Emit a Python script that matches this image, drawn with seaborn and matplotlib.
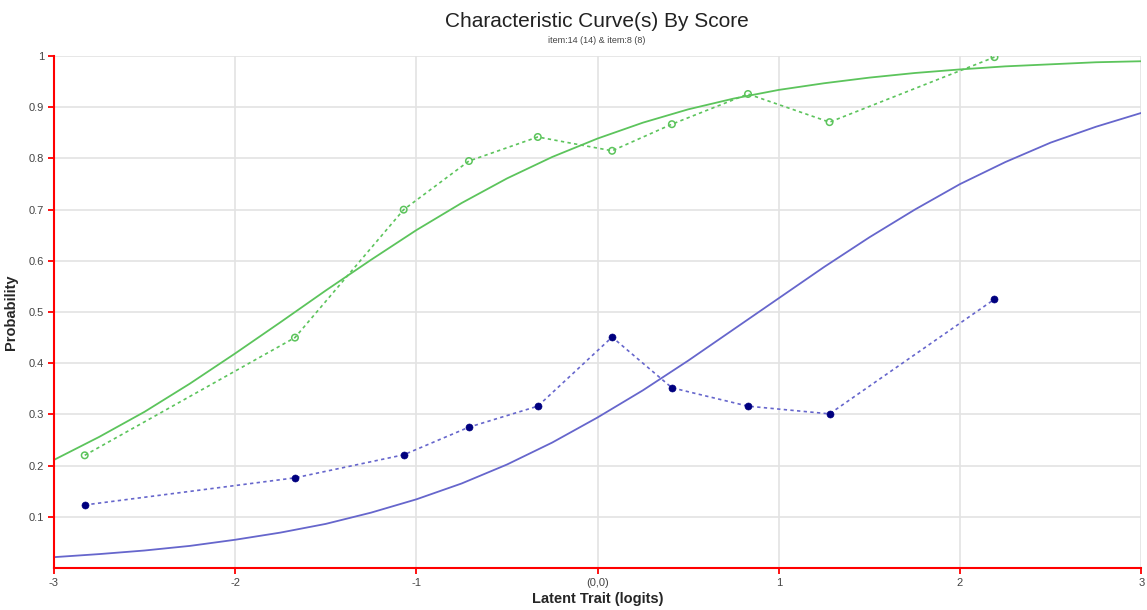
import matplotlib.pyplot as plt
import pandas as pd
import seaborn as sns

# observed proportions per score group
obs_x = [-2.83, -1.67, -1.07, -0.71, -0.33, 0.08, 0.41, 0.83, 1.28, 2.19]
obs_item14 = [0.220, 0.450, 0.700, 0.795, 0.842, 0.815, 0.867, 0.926, 0.871, 0.998]
obs_item8 = [0.123, 0.176, 0.221, 0.275, 0.316, 0.451, 0.352, 0.316, 0.301, 0.525]

# model curves
curve_x = [-3.0, -2.75, -2.5, -2.25, -2.0, -1.75, -1.5, -1.25, -1.0, -0.75,
           -0.5, -0.25, 0.0, 0.25, 0.5, 0.75, 1.0, 1.25, 1.5, 1.75, 2.0,
           2.25, 2.5, 2.75, 3.0]
curve_item14 = [0.211, 0.256, 0.305, 0.360, 0.419, 0.480, 0.542, 0.602,
                0.660, 0.713, 0.761, 0.803, 0.839, 0.870, 0.896, 0.917,
                0.934, 0.947, 0.958, 0.967, 0.974, 0.980, 0.984, 0.988, 0.990]
curve_item8 = [0.021, 0.027, 0.034, 0.043, 0.055, 0.069, 0.086, 0.108,
               0.134, 0.165, 0.202, 0.245, 0.294, 0.347, 0.405, 0.466,
               0.527, 0.588, 0.646, 0.700, 0.750, 0.793, 0.831, 0.862, 0.889]

x_ticks = [-3, -2, -1, 0, 1, 2, 3]
x_tick_labels = ["-3", "-2", "-1", "(0,0)", "1", "2", "3"]
y_ticks = [0.1, 0.2, 0.3, 0.4, 0.5, 0.6, 0.7, 0.8, 0.9, 1.0]
y_tick_labels = ["0.1", "0.2", "0.3", "0.4", "0.5", "0.6", "0.7", "0.8", "0.9", "1"]

GREEN = "#5cc45c"
BLUE_LINE = "#6666cc"
NAVY = "#00007f"

sns.set_style("white")
plt.rcParams["font.family"] = ["Liberation Sans", "DejaVu Sans"]

curves = pd.DataFrame({"x": curve_x, "item14": curve_item14, "item8": curve_item8})
obs = pd.DataFrame({"x": obs_x, "item14": obs_item14, "item8": obs_item8})

fig = plt.figure(figsize=(11.47, 6.1), dpi=100)
ax = fig.add_axes([0.047, 0.069, 0.948, 0.839])

ax.grid(True, color="#e3e3e3", linewidth=1.2)
ax.set_axisbelow(True)

sns.lineplot(data=curves, x="x", y="item14", ax=ax, color=GREEN, linewidth=1.3)
sns.lineplot(data=curves, x="x", y="item8", ax=ax, color=BLUE_LINE, linewidth=1.3)

sns.lineplot(data=obs, x="x", y="item14", ax=ax, color=GREEN, linewidth=1.2,
             linestyle=(0, (2, 2)))
sns.scatterplot(data=obs, x="x", y="item14", ax=ax, facecolor="none",
                edgecolor=GREEN, marker="o", s=22, linewidth=1.1, zorder=4)

sns.lineplot(data=obs, x="x", y="item8", ax=ax, color=BLUE_LINE, linewidth=1.2,
             linestyle=(0, (2, 2)))
sns.scatterplot(data=obs, x="x", y="item8", ax=ax, color=NAVY, marker="o",
                s=26, edgecolor=NAVY, zorder=4)

ax.set_xlim(-3, 3)
ax.set_ylim(0, 1)
ax.set_xticks(x_ticks)
ax.set_xticklabels(x_tick_labels)
ax.set_yticks(y_ticks)
ax.set_yticklabels(y_tick_labels)
ax.tick_params(axis="both", bottom=True, left=True, colors="red",
               labelcolor="#444444", labelsize=8, length=4, width=1.3,
               direction="out", pad=3)

for side in ["top", "right"]:
    ax.spines[side].set_visible(False)
for side in ["left", "bottom"]:
    ax.spines[side].set_color("red")
    ax.spines[side].set_linewidth(1.5)

ax.set_xlabel("Latent Trait (logits)", fontsize=10.5, fontweight="bold", labelpad=3)
ax.set_ylabel("Probability", fontsize=10.5, fontweight="bold", labelpad=8)

fig.text(0.52, 0.965, "Characteristic Curve(s) By Score", ha="center",
         va="center", fontsize=15, color="#222222")
fig.text(0.52, 0.934, "item:14 (14) & item:8 (8)", ha="center", va="center",
         fontsize=6.5, color="#444444")

plt.savefig("out.png", dpi=100)
